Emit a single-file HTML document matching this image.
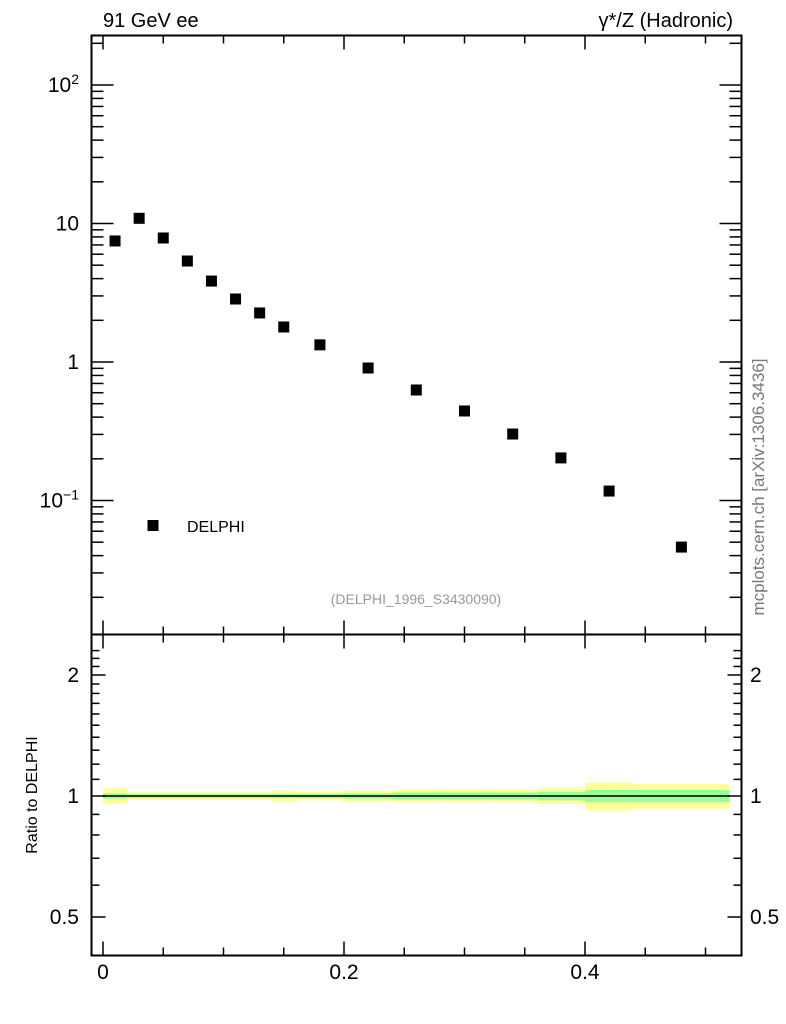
<!DOCTYPE html>
<html><head><meta charset="utf-8"><style>
body{margin:0;background:#fff;}
svg{display:block;font-family:"Liberation Sans",sans-serif;}
</style></head><body>
<svg id="c" width="786" height="1024" viewBox="0 0 786 1024">
<text x="103" y="27" font-size="20">91 GeV ee</text>
<text x="733" y="27" font-size="20" text-anchor="end">γ*/Z (Hadronic)</text>
<text transform="translate(764,487) rotate(-90)" font-size="17" fill="#777" text-anchor="middle">mcplots.cern.ch [arXiv:1306.3436]</text>
<text x="416" y="604" font-size="14" fill="#999" text-anchor="middle">(DELPHI_1996_S3430090)</text>
<text transform="translate(37,795) rotate(-90)" font-size="16" text-anchor="middle">Ratio to DELPHI</text>
</svg>
<script>
const xVals=[0.01,0.03,0.05,0.07,0.09,0.11,0.13,0.15,0.18,0.22,0.26,0.30,0.34,0.38,0.42,0.48];
const yVals=[7.48,10.9,7.86,5.36,3.84,2.85,2.26,1.79,1.33,0.905,0.628,0.443,0.302,0.203,0.117,0.0461];
const binEdges=[0,0.02,0.04,0.06,0.08,0.1,0.12,0.14,0.16,0.2,0.24,0.28,0.32,0.36,0.4,0.44,0.52];
const totErr=[0.045,0.022,0.022,0.022,0.022,0.022,0.022,0.03,0.025,0.03,0.035,0.035,0.035,0.045,0.08,0.07];
const statErr=[0.015,0.01,0.01,0.01,0.01,0.01,0.01,0.012,0.012,0.015,0.02,0.02,0.02,0.025,0.035,0.035];
const xTickLabels=[0,0.2,0.4];
const ratioTicks=[0.5,1,2];

const svg=document.getElementById('c');
const NS='http://www.w3.org/2000/svg';
const L=91.5,R=741.5,T=35.5,B=634.5,RB=955.5;
const sx=v=>103+v*1205;
const sy=v=>362-Math.log10(v)*138.5;
const sr=v=>796-Math.log2(v)*121;
function mk(t,a,p){const e=document.createElementNS(NS,t);for(const k in a)e.setAttribute(k,a[k]);(p||svg).appendChild(e);return e;}
function ln(x1,y1,x2,y2,n){const e=mk('line',{x1,y1,x2,y2,stroke:'#000','stroke-width':1.5});

}

binEdges.slice(0,-1).forEach((e0,i)=>{
 const x0=sx(e0),x1=sx(binEdges[i+1]);
 const y=mk('rect',{x:x0,y:sr(1+totErr[i]),width:x1-x0,height:sr(1-totErr[i])-sr(1+totErr[i]),fill:'#ffff99'});
 
 
 const g=mk('rect',{x:x0,y:sr(1+statErr[i]),width:x1-x0,height:sr(1-statErr[i])-sr(1+statErr[i]),fill:'#99ff99'});
 
 
});
ln(sx(0),sr(1),sx(0.52),sr(1),'ratio-reference-line');

const f1=mk('rect',{x:L,y:T,width:R-L,height:B-T,fill:'none',stroke:'#000','stroke-width':2});


const f2=mk('rect',{x:L,y:B,width:R-L,height:RB-B,fill:'none',stroke:'#000','stroke-width':2});



for(let i=0;i<=10;i++){const v=i*0.05,x=sx(v),big=(i%4==0);const h=big?14:8;
 ln(x,T,x,T+h,'x-tick');ln(x,B,x,B-h,'x-tick');ln(x,B,x,B+h,'x-tick');ln(x,RB,x,RB-h,'x-tick');}
xTickLabels.forEach(v=>{const t=mk('text',{x:sx(v),y:979,'font-size':21,'text-anchor':'middle'});t.textContent=v;
 
 });

for(let d=-2;d<=2;d++)for(let m=1;m<=9;m++){const v=m*Math.pow(10,d),y=sy(v);if(y<T||y>B)continue;
 const h=m==1?22:12;ln(L,y,L+h,y,'y-tick');ln(R,y,R-h,y,'y-tick');}
[[100,'10<tspan dy="-8" font-size="14">2</tspan>'],[10,'10'],[1,'1'],[0.1,'10<tspan dy="-8" font-size="14">−1</tspan>']].forEach(([v,s])=>{
 const t=mk('text',{x:79,y:sy(v)+7,'font-size':21,'text-anchor':'end'});t.innerHTML=s;
 
 });

[0.5,0.6,0.7,0.8,0.9,1,1.1,1.2,1.3,1.4,1.5,1.6,1.7,1.8,1.9,2,2.1,2.2,2.3].forEach(v=>{const y=sr(v);if(y<B||y>RB)return;
 const h=[0.5,1,2].includes(v)?14:8;ln(L,y,L+h,y,'ratio-y-tick');ln(R,y,R-h,y,'ratio-y-tick');});
ratioTicks.forEach(v=>{[[79,'end'],[750,'start']].forEach(([x,a])=>{
 const t=mk('text',{x,y:sr(v)+7,'font-size':21,'text-anchor':a});t.textContent=v;
 
 });});

xVals.forEach((v,i)=>{const p=mk('rect',{x:sx(v)-5.5,y:sy(yVals[i])-5.5,width:11,height:11,fill:'#000'});
 
 });

const lm=mk('rect',{x:147.5,y:520,width:11,height:11,fill:'#000'});


const lt=mk('text',{x:187,y:532,'font-size':16});lt.textContent='DELPHI';


</script>
</body></html>
